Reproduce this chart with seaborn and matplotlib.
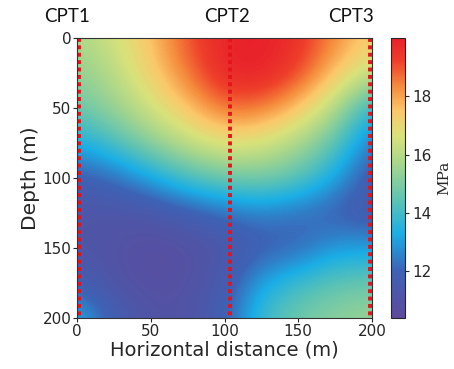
import numpy as np
import matplotlib
matplotlib.use("Agg")
import matplotlib.pyplot as plt
from matplotlib.colors import LinearSegmentedColormap
import seaborn as sns

# grid nodes (m)
x_nodes = [0, 25, 50, 75, 100, 125, 150, 175, 200]
depth_nodes = [0, 25, 50, 75, 100, 125, 150, 175, 200]

# strength (MPa), one row per depth node
row_d0 = [15.8, 16.5, 17.6, 19.0, 19.9, 20.0, 19.6, 18.4, 17.3]
row_d25 = [15.3, 16.0, 17.3, 18.6, 19.9, 20.0, 19.3, 17.6, 16.3]
row_d50 = [14.7, 15.5, 16.5, 17.6, 18.8, 18.7, 17.6, 16.0, 13.5]
row_d75 = [13.3, 14.2, 15.3, 16.2, 16.9, 16.6, 15.8, 14.5, 12.3]
row_d100 = [11.8, 12.2, 13.2, 14.2, 14.8, 15.0, 14.5, 13.2, 11.5]
row_d125 = [11.2, 11.1, 11.2, 11.7, 12.2, 12.5, 12.2, 11.8, 11.5]
row_d150 = [11.2, 11.0, 10.7, 10.8, 11.2, 11.8, 12.0, 13.0, 13.0]
row_d175 = [11.8, 11.0, 10.8, 10.9, 11.5, 13.2, 14.0, 14.5, 14.7]
row_d200 = [13.5, 11.8, 11.0, 11.0, 11.8, 14.0, 14.8, 15.3, 15.5]

cpt_names = ["CPT1", "CPT2", "CPT3"]
cpt_x = [1, 104, 199]
cpt_label_x = [-7, 102, 186]

field = np.array([row_d0, row_d25, row_d50, row_d75, row_d100,
                  row_d125, row_d150, row_d175, row_d200])

cmap = LinearSegmentedColormap.from_list("cpt", [
    (0.00, "#5e4a9c"), (0.17, "#3d63b6"), (0.30, "#1aaee6"),
    (0.42, "#5cc3b4"), (0.55, "#a6d68c"), (0.65, "#d9e27a"),
    (0.74, "#fbc86a"), (0.83, "#f58a3c"), (0.92, "#ee3f2a"),
    (1.00, "#e8202a")])

sns.set_style("white")
plt.rcParams["font.family"] = ["DejaVu Sans"]

fig = plt.figure(figsize=(4.54, 3.69), dpi=100)
ax = fig.add_axes([0.170, 0.138, 0.649, 0.759])
cax = fig.add_axes([0.861, 0.138, 0.031, 0.759])

dx = (x_nodes[1] - x_nodes[0]) / 2
dz = (depth_nodes[1] - depth_nodes[0]) / 2
im = ax.imshow(field, cmap=cmap, vmin=10.4, vmax=20.0, aspect="auto",
               interpolation="bicubic",
               extent=[x_nodes[0] - dx, x_nodes[-1] + dx,
                       depth_nodes[-1] + dz, depth_nodes[0] - dz])
ax.set_xlim(0, 200)
ax.set_ylim(200, 0)

for xc in cpt_x:
    ax.plot([xc, xc], [0, 200], color="#e3141c", lw=2.8,
            linestyle=(0, (1, 0.9)), solid_capstyle="butt")

for name, xl in zip(cpt_names, cpt_label_x):
    ax.text(xl, -9.5, name, ha="center", va="bottom", fontsize=13.5,
            family=["Lato", "DejaVu Sans"], color="#111111")

ax.set_xticks([0, 50, 100, 150, 200])
ax.set_yticks([0, 50, 100, 150, 200])
ax.tick_params(labelsize=11, length=3, width=0.8, direction="out",
               bottom=True, left=True, pad=1)
ax.set_xlabel("Horizontal distance (m)", fontsize=14, labelpad=1)
ax.set_ylabel("Depth (m)", fontsize=14.5, labelpad=2)
for s in ax.spines.values():
    s.set_linewidth(0.8)
    s.set_color("#333333")

cb = fig.colorbar(im, cax=cax, ticks=[12, 14, 16, 18])
cb.ax.tick_params(labelsize=11, length=3, width=0.8, pad=2)
cb.outline.set_linewidth(0.8)
cb.set_label("MPa", fontsize=11, family="DejaVu Serif", labelpad=4)

fig.savefig("out.png", dpi=100)
